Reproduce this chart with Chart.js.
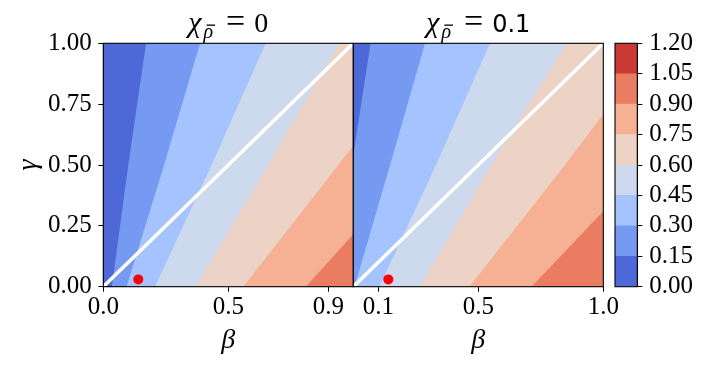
<!DOCTYPE html>
<html>
<head>
<meta charset="utf-8">
<script src="https://cdn.jsdelivr.net/npm/chart.js@4.4.1/dist/chart.umd.min.js"></script>
<style>
  body { margin: 0; background: #fff; }
  #wrap { position: relative; width: 707px; height: 369px; }
  #wrap canvas { position: absolute; left: 0; top: 0; }
</style>
</head>
<body>
<div id="wrap">
  <canvas id="leftChart" width="707" height="369"></canvas>
  <canvas id="rightChart" width="707" height="369"></canvas>
  <canvas id="colorbar" width="707" height="369"></canvas>
</div>
<script>
// contour levels and band colours (coolwarm, 8 bands)
const levels = [0, 0.15, 0.3, 0.45, 0.6, 0.75, 0.9, 1.05, 1.2];
const bandColors = ['#4d68d7', '#7699f2', '#a5c3fe', '#cdd9ec', '#ecd3c5', '#f6b093', '#ea7c61', '#c93a37'];

// contour lines [beta, gamma], one per level 0.15 ... 0.90
const leftContours = [
  [[0.034, 0], [0.100, 0.5], [0.171, 1]],
  [[0.093, 0], [0.243, 0.5], [0.387, 1]],
  [[0.207, 0], [0.433, 0.5], [0.650, 1]],
  [[0.370, 0], [0.660, 0.5], [0.945, 1]],
  [[0.560, 0], [0.940, 0.5], [1, 0.58]],
  [[0.810, 0], [1, 0.215]]
];
const rightContours = [
  [[0, 0.54], [0.053, 0.894], [0.069, 1]],
  [[0.005, 0], [0.147, 0.5], [0.287, 1]],
  [[0.104, 0], [0.331, 0.5], [0.547, 1]],
  [[0.267, 0], [0.553, 0.5], [0.853, 1]],
  [[0.464, 0], [0.847, 0.5], [1, 0.708]],
  [[0.713, 0], [1, 0.31]]
];

const diagonal = [[0, 0], [1, 1]];
const leftMarker = [0.14, 0.03];
const rightMarker = [0.14, 0.03];

const xTicksLeft = [0, 0.5, 0.9];
const xTicksRight = [0.1, 0.5, 1.0];
const yTicks = [0, 0.25, 0.5, 0.75, 1];

Chart.defaults.font.family = '"Liberation Serif", serif';
Chart.defaults.color = '#000';

const tickFont = { size: 25 };
const labelFont = { size: 28, style: 'italic' };

// area right of / below a contour line, closed along the panel edges
function regionAbove(line) {
  const pts = line.map(p => ({ x: p[0], y: p[1] }));
  const first = line[0];
  const last = line[line.length - 1];
  if (last[1] >= 1) pts.push({ x: 1, y: 1 });
  pts.push({ x: 1, y: 0 });
  if (first[0] <= 0 && first[1] > 0) pts.push({ x: 0, y: 0 });
  return pts;
}

function panelDatasets(contours, marker) {
  let sets = [];
  sets.push({
    data: [{ x: 0, y: 0 }, { x: 0, y: 1 }, { x: 1, y: 1 }, { x: 1, y: 0 }],
    backgroundColor: bandColors[0],
    fill: 'shape',
    order: 20
  });
  contours.forEach((line, i) => {
    sets.push({
      data: regionAbove(line),
      backgroundColor: bandColors[i + 1],
      fill: 'shape',
      order: 19 - i
    });
  });
  sets.push({
    data: diagonal.map(p => ({ x: p[0], y: p[1] })),
    borderColor: '#ffffff',
    borderWidth: 3.5,
    fill: false,
    order: 1
  });
  sets.push({
    data: [{ x: marker[0], y: marker[1] }],
    showLine: false,
    pointRadius: 5,
    pointBorderWidth: 0,
    pointBackgroundColor: '#ff0000',
    order: 0
  });
  return sets;
}

// black box around the plotting area
const framePlugin = {
  id: 'frame',
  afterDatasetsDraw(chart) {
    const a = chart.chartArea;
    const ctx = chart.ctx;
    ctx.save();
    ctx.strokeStyle = '#000';
    ctx.lineWidth = 1.1;
    ctx.strokeRect(a.left, a.top, a.right - a.left, a.bottom - a.top);
    ctx.restore();
  }
};

// panel title  chi_{rho bar} = value
function panelTitle(valueText, valueFont) {
  return {
    id: 'panelTitle',
    afterDraw(chart) {
      const ctx = chart.ctx;
      const a = chart.chartArea;
      const base = 31.5;
      const parts = [
        { t: 'χ', f: 'italic 30px "Liberation Serif"', dy: 0, gap: 2 },
        { t: 'ρ', f: 'italic 20px "Liberation Serif"', dy: 6, gap: 13, bar: true },
        { t: '=', f: '34px "Liberation Serif"', dy: 0, gap: 9 },
        { t: valueText, f: valueFont, dy: 0, gap: 0 }
      ];
      ctx.save();
      let total = 0;
      parts.forEach(p => {
        ctx.font = p.f;
        p.w = ctx.measureText(p.t).width;
        total += p.w + p.gap;
      });
      let x = (a.left + a.right) / 2 - total / 2;
      ctx.fillStyle = '#000';
      ctx.textBaseline = 'alphabetic';
      parts.forEach(p => {
        ctx.font = p.f;
        ctx.fillText(p.t, x, base + p.dy);
        if (p.bar) ctx.fillRect(x + 3, base + p.dy - 13, p.w - 1, 1.3);
        x += p.w + p.gap;
      });
      ctx.restore();
    }
  };
}

function xScale(ticks) {
  return {
    type: 'linear',
    position: 'bottom',
    min: 0,
    max: 1,
    afterBuildTicks: s => { s.ticks = ticks.map(v => ({ value: v })); },
    afterFit: s => { s.height = 82.3; },
    ticks: { callback: v => v.toFixed(1), font: tickFont, padding: 1, maxRotation: 0, autoSkip: false },
    grid: { drawOnChartArea: false, tickLength: 5, tickColor: '#000' },
    border: { color: '#000', width: 1 },
    title: { display: true, text: 'β', font: labelFont, padding: { top: 0, bottom: 12 } }
  };
}

function panelConfig(contours, marker, ticks, pad, showY, titlePlugin) {
  return {
    type: 'scatter',
    data: { datasets: panelDatasets(contours, marker) },
    options: {
      responsive: false,
      animation: false,
      events: [],
      layout: { padding: pad },
      elements: { line: { borderWidth: 0, tension: 0 }, point: { radius: 0 } },
      datasets: { scatter: { showLine: true } },
      plugins: { legend: { display: false }, tooltip: { enabled: false } },
      scales: {
        x: xScale(ticks),
        y: {
          type: 'linear',
          display: showY,
          min: 0,
          max: 1,
          afterBuildTicks: s => { s.ticks = yTicks.map(v => ({ value: v })); },
          afterFit: s => { if (showY) s.width = 103.3; },
          ticks: { callback: v => v.toFixed(2), font: tickFont, padding: 6.6, autoSkip: false },
          grid: { drawOnChartArea: false, tickLength: 5, tickColor: '#000' },
          border: { color: '#000', width: 1 },
          title: { display: true, text: 'γ', font: labelFont, padding: { top: 12, bottom: 0 } }
        }
      }
    },
    plugins: [framePlugin, titlePlugin]
  };
}

new Chart(document.getElementById('leftChart'),
  panelConfig(leftContours, leftMarker, xTicksLeft,
    { left: 0, top: 43.3, right: 353.7, bottom: 0 }, true,
    panelTitle('0', '28px "Liberation Serif"')));

new Chart(document.getElementById('rightChart'),
  panelConfig(rightContours, rightMarker, xTicksRight,
    { left: 353.3, top: 43.3, right: 103.7, bottom: 0 }, false,
    panelTitle('0.1', '24px "DejaVu Sans"')));

// colorbar: one floating bar per band
new Chart(document.getElementById('colorbar'), {
  type: 'bar',
  data: {
    labels: ['cb'],
    datasets: bandColors.map((c, i) => ({
      data: [[levels[i], levels[i + 1]]],
      backgroundColor: c,
      borderWidth: 0,
      barPercentage: 1,
      categoryPercentage: 1,
      grouped: false
    }))
  },
  options: {
    responsive: false,
    animation: false,
    events: [],
    layout: { padding: { left: 615, top: 43.3, right: 0, bottom: 82.3 } },
    plugins: { legend: { display: false }, tooltip: { enabled: false } },
    scales: {
      x: { display: false },
      y: {
        position: 'right',
        min: 0,
        max: 1.2,
        afterBuildTicks: s => { s.ticks = levels.map(v => ({ value: v })); },
        afterFit: s => { s.width = 69.7; },
        ticks: { callback: v => v.toFixed(2), font: tickFont, padding: 7, autoSkip: false },
        grid: { drawOnChartArea: false, tickLength: 5, tickColor: '#000' },
        border: { color: '#000', width: 1 }
      }
    }
  },
  plugins: [framePlugin]
});
</script>
</body>
</html>
